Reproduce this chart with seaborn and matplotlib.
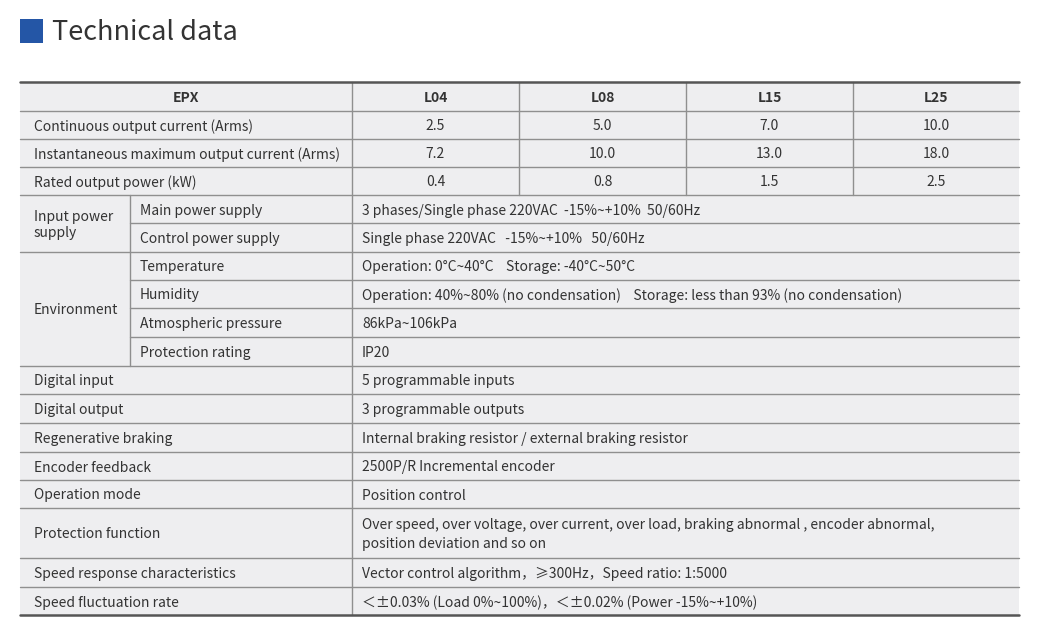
import matplotlib
matplotlib.use("Agg")
import matplotlib.pyplot as plt
import seaborn as sns

sns.set_theme(style="white")
plt.rcParams['font.family'] = ['Noto Sans CJK SC', 'DejaVu Sans']

# table content
header_label = "EPX"
models = ["L04", "L08", "L15", "L25"]
model_rows = ["Continuous output current (Arms)",
              "Instantaneous maximum output current (Arms)",
              "Rated output power (kW)"]
continuous_current = [2.5, 5.0, 7.0, 10.0]
max_current = [7.2, 10.0, 13.0, 18.0]
rated_power = [0.4, 0.8, 1.5, 2.5]

input_power_group = "Input power\nsupply"
input_power_items = ["Main power supply", "Control power supply"]
input_power_values = ["3 phases/Single phase 220VAC  -15%~+10%  50/60Hz",
                      "Single phase 220VAC   -15%~+10%   50/60Hz"]

environment_group = "Environment"
environment_items = ["Temperature", "Humidity", "Atmospheric pressure", "Protection rating"]
environment_values = ["Operation: 0°C~40°C    Storage: -40°C~50°C",
                      "Operation: 40%~80% (no condensation)    Storage: less than 93% (no condensation)",
                      "86kPa~106kPa",
                      "IP20"]

spec_items = ["Digital input", "Digital output", "Regenerative braking", "Encoder feedback",
              "Operation mode", "Protection function", "Speed response characteristics",
              "Speed fluctuation rate"]
spec_values = ["5 programmable inputs",
               "3 programmable outputs",
               "Internal braking resistor / external braking resistor",
               "2500P/R Incremental encoder",
               "Position control",
               "Over speed, over voltage, over current, over load, braking abnormal , encoder abnormal,\nposition deviation and so on",
               "Vector control algorithm，≥300Hz，Speed ratio: 1:5000",
               "＜±0.03% (Load 0%~100%)，＜±0.02% (Power -15%~+10%)"]

# layout in pixels
W, H = 1045, 627
LEFT, RIGHT = 20, 1019
SUB_X = 130
VAL_X = 352
COL_X = [352, 519, 686, 853, 1019]
ROW_Y = [82, 111, 139, 167, 195, 223, 252, 280, 308, 337, 366,
         394, 423, 452, 480, 508, 558, 587, 615]
DY = 1.5  # text sits a touch below the row centre

TXT = "#333333"
LINE = "#8f8f8f"
LW = 1.0
FS = 10

fig = plt.figure(figsize=(W / 100, H / 100), dpi=100)
ax = fig.add_axes([0, 0, 1, 1])
ax.set_xlim(0, W)
ax.set_ylim(H, 0)
ax.axis("off")

# title
ax.add_patch(plt.Rectangle((20, 19), 23, 24, color="#2456a6", lw=0))
ax.text(52, 32, "Technical data", fontsize=19.5, color="#333333",
        va="center", ha="left", fontweight="light")

# background
ax.add_patch(plt.Rectangle((LEFT, ROW_Y[0]), RIGHT - LEFT, ROW_Y[-1] - ROW_Y[0],
                           color="#eeeef0", lw=0))


def mid(i):
    return (ROW_Y[i] + ROW_Y[i + 1]) / 2 + DY


# header row
ax.text((LEFT + VAL_X) / 2, mid(0), header_label, ha="center", va="center",
        fontsize=FS, fontweight="bold", color=TXT)
for j, m in enumerate(models):
    ax.text((COL_X[j] + COL_X[j + 1]) / 2, mid(0), m, ha="center", va="center",
            fontsize=FS, fontweight="bold", color=TXT)

# model value rows
for i, (label, vals) in enumerate(zip(model_rows, [continuous_current, max_current, rated_power])):
    r = i + 1
    ax.text(34, mid(r), label, ha="left", va="center", fontsize=FS, color=TXT)
    for j, v in enumerate(vals):
        ax.text((COL_X[j] + COL_X[j + 1]) / 2, mid(r), f"{v:.1f}", ha="center",
                va="center", fontsize=FS, color=TXT)

# grouped rows
r0 = 4
groups = [(input_power_group, input_power_items, input_power_values),
          (environment_group, environment_items, environment_values)]
for gname, items, vals in groups:
    n = len(items)
    ax.text(34, (ROW_Y[r0] + ROW_Y[r0 + n]) / 2 + DY, gname, ha="left", va="center",
            fontsize=FS, color=TXT, linespacing=1.1)
    for k, (it, v) in enumerate(zip(items, vals)):
        ax.text(140, mid(r0 + k), it, ha="left", va="center", fontsize=FS, color=TXT)
        ax.text(362, mid(r0 + k), v, ha="left", va="center", fontsize=FS, color=TXT)
        if k > 0:
            ax.plot([SUB_X, RIGHT], [ROW_Y[r0 + k]] * 2, color=LINE, lw=LW)
    ax.plot([SUB_X, SUB_X], [ROW_Y[r0], ROW_Y[r0 + n]], color=LINE, lw=LW)
    ax.plot([LEFT, RIGHT], [ROW_Y[r0 + n]] * 2, color=LINE, lw=LW)
    r0 += n

# plain rows
for k, (it, v) in enumerate(zip(spec_items, spec_values)):
    r = r0 + k
    ax.text(34, mid(r), it, ha="left", va="center", fontsize=FS, color=TXT)
    ax.text(362, mid(r), v, ha="left", va="center", fontsize=FS, color=TXT,
            linespacing=1.5)
    if r + 1 < len(ROW_Y) - 1:
        ax.plot([LEFT, RIGHT], [ROW_Y[r + 1]] * 2, color=LINE, lw=LW)

# lines in the top block
for r in range(1, 5):
    ax.plot([LEFT, RIGHT], [ROW_Y[r]] * 2, color=LINE, lw=LW)
for x in COL_X[1:-1]:
    ax.plot([x, x], [ROW_Y[0], ROW_Y[4]], color=LINE, lw=LW)
ax.plot([VAL_X, VAL_X], [ROW_Y[0], ROW_Y[-1]], color=LINE, lw=LW)

# heavy top and bottom rules
ax.plot([LEFT, RIGHT], [ROW_Y[0]] * 2, color="#555555", lw=1.8)
ax.plot([LEFT, RIGHT], [ROW_Y[-1]] * 2, color="#555555", lw=1.8)

fig.savefig("out.png", dpi=100)
